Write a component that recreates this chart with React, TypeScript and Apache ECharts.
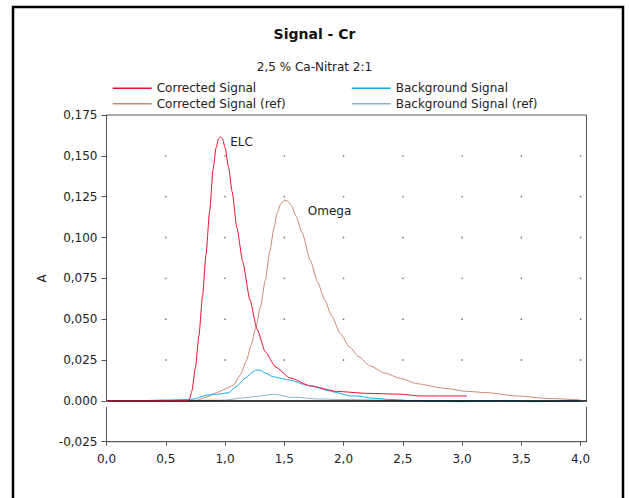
import React, { useEffect, useRef } from "react";
import * as echarts from "echarts";

// ---- data ----
const X_TICKS = [0, 0.5, 1, 1.5, 2, 2.5, 3, 3.5, 4];
const Y_TICKS = [-0.025, 0, 0.025, 0.05, 0.075, 0.1, 0.125, 0.15, 0.175];

const corrX = [0, 0.2, 0.4, 0.6, 0.68, 0.7, 0.72, 0.75, 0.78, 0.81, 0.84, 0.87, 0.9, 0.925, 0.945, 0.963, 0.98, 1.0, 1.03, 1.06, 1.1, 1.15, 1.21, 1.27, 1.34, 1.43, 1.55, 1.72, 1.94, 2.2, 2.48, 2.64, 2.8, 3.04];
const corrY = [0, 0, 0, 0, 0, 0.001, 0.006, 0.02, 0.04, 0.064, 0.09, 0.116, 0.142, 0.155, 0.1605, 0.1616, 0.1603, 0.155, 0.143, 0.128, 0.106, 0.085, 0.062, 0.044, 0.03, 0.0205, 0.014, 0.0092, 0.0058, 0.0046, 0.0041, 0.003, 0.003, 0.003];

const corrRefX = [0, 0.5, 0.7, 0.76, 0.85, 0.93, 1.0, 1.07, 1.13, 1.18, 1.22, 1.26, 1.3, 1.34, 1.38, 1.41, 1.44, 1.47, 1.5, 1.53, 1.56, 1.6, 1.65, 1.72, 1.78, 1.84, 1.9, 1.97, 2.05, 2.13, 2.22, 2.35, 2.48, 2.62, 2.84, 3.04, 3.21, 3.46, 3.74, 4.0];
const corrRefY = [0, 0, 0, 0.0003, 0.0025, 0.0051, 0.0072, 0.0095, 0.016, 0.0245, 0.034, 0.045, 0.058, 0.074, 0.092, 0.105, 0.115, 0.1205, 0.1229, 0.1222, 0.1195, 0.113, 0.103, 0.086, 0.073, 0.062, 0.052, 0.0415, 0.033, 0.027, 0.0215, 0.017, 0.0138, 0.0105, 0.0078, 0.0058, 0.005, 0.003, 0.0014, 0.0006];

const bgX = [0, 0.2, 0.5, 0.73, 0.845, 0.93, 1.03, 1.084, 1.18, 1.23, 1.261, 1.295, 1.34, 1.407, 1.548, 1.69, 1.717, 1.885, 1.94, 2.05, 2.11, 2.25, 2.4, 2.6, 3.0, 3.3, 3.6, 4.0];
const bgY = [0, 0, 0.0005, 0.001, 0.0035, 0.004, 0.005, 0.0082, 0.0143, 0.0175, 0.0188, 0.0188, 0.017, 0.0147, 0.0127, 0.0096, 0.0092, 0.0061, 0.0051, 0.003, 0.003, 0.0016, 0.0008, 0, -0.0005, 0, -0.0005, 0];

const bgRefX = [0, 0.5, 1.0, 1.154, 1.3, 1.39, 1.45, 1.548, 1.6, 1.77, 2.0, 2.5, 3.0, 3.5, 4.0];
const bgRefY = [0, 0, 0.0005, 0.0018, 0.003, 0.004, 0.0037, 0.0022, 0.0022, 0.0012, 0.0008, 0.0003, 0.0002, 0, 0];

const SERIES_NAMES = ["Corrected Signal", "Background Signal", "Corrected Signal (ref)", "Background Signal (ref)"];
const PEAK_LABELS = ["ELC", "Omega"];

const FONT = "DejaVu Sans";

function zip(xs: number[], ys: number[]) {
  return xs.map((x, i) => [x, ys[i]]);
}

function peakMark(text: string, offset: number[]) {
  return {
    silent: true,
    symbol: "circle",
    symbolSize: 1,
    itemStyle: { color: "rgba(0,0,0,0)" },
    data: [
      {
        type: "max",
        valueDim: "y",
        label: {
          show: true,
          position: "right",
          distance: 5,
          offset,
          formatter: text,
          fontFamily: FONT,
          fontSize: 12,
          color: "#222",
        },
      },
    ],
  };
}

export default function App() {
  const ref = useRef<HTMLDivElement>(null);
  useEffect(() => {
    if (!ref.current) return;
    const chart = echarts.init(ref.current, null, { renderer: "svg" });

    const dots: number[][] = [];
    X_TICKS.filter((x) => x > 0).forEach((x) =>
      Y_TICKS.filter((y) => y > 0.001 && y < 0.17).forEach((y) => dots.push([x, y]))
    );

    const legendPos = [
      { name: SERIES_NAMES[0], left: 112.7, top: 82.3 },
      { name: SERIES_NAMES[1], left: 351.7, top: 82.3 },
      { name: SERIES_NAMES[2], left: 112.7, top: 97.7 },
      { name: SERIES_NAMES[3], left: 351.7, top: 97.7 },
    ];

    const lineCommon = {
      type: "line",
      showSymbol: false,
      smooth: 0.2,
      smoothMonotone: "x",
    };

    const option: any = {
      animation: false,
      backgroundColor: "#ffffff",
      title: [
        {
          text: "Signal - Cr",
          left: "center",
          top: 27,
          padding: 0,
          textStyle: { fontFamily: FONT, fontWeight: "bold", fontSize: 14, color: "#111" },
        },
        {
          text: "2,5 % Ca-Nitrat 2:1",
          left: "center",
          top: 61,
          padding: 0,
          textStyle: { fontFamily: FONT, fontWeight: "normal", fontSize: 12, color: "#222" },
        },
      ],
      legend: legendPos.map((l) => ({
        data: [l.name],
        left: l.left,
        top: l.top,
        padding: 0,
        itemWidth: 39,
        itemHeight: 1.5,
        icon: "rect",
        selectedMode: false,
        textStyle: { fontFamily: FONT, fontSize: 12, color: "#222" },
      })),
      grid: {
        left: 106.5,
        right: 42.5,
        top: 115,
        bottom: 56.3,
        show: true,
        borderColor: "#555",
        borderWidth: 1,
        backgroundColor: "transparent",
      },
      xAxis: {
        type: "value",
        min: 0,
        max: 4.05,
        interval: 0.5,
        splitLine: { show: false },
        axisLine: { onZero: false, lineStyle: { color: "#555", width: 1 } },
        axisTick: { show: true, length: 4, customValues: X_TICKS, lineStyle: { color: "#555" } },
        axisLabel: {
          customValues: X_TICKS,
          margin: 11,
          fontFamily: FONT,
          fontSize: 12,
          color: "#222",
          formatter: (v: number) => v.toFixed(1).replace(".", ","),
        },
      },
      yAxis: {
        type: "value",
        min: -0.025,
        max: 0.175,
        interval: 0.025,
        name: "A",
        nameLocation: "middle",
        nameRotate: 90,
        nameGap: 58,
        nameTextStyle: { fontFamily: FONT, fontSize: 12, color: "#222" },
        splitLine: { show: false },
        axisLine: { show: true, lineStyle: { color: "#555", width: 1 } },
        axisTick: { show: true, length: 5, lineStyle: { color: "#555" } },
        axisLabel: {
          margin: 9,
          fontFamily: FONT,
          fontSize: 12,
          color: "#222",
          formatter: (v: number) =>
            Math.abs(v) < 1e-9 ? "0.000" : v.toFixed(3).replace(".", ","),
        },
      },
      series: [
        {
          type: "scatter",
          data: dots,
          symbolSize: 1.6,
          itemStyle: { color: "#555" },
          silent: true,
          z: 1,
        },
        {
          ...lineCommon,
          name: SERIES_NAMES[2],
          color: "#c98a70",
          lineStyle: { width: 1, color: "#c98a70" },
          data: zip(corrRefX, corrRefY),
          markPoint: peakMark(PEAK_LABELS[1], [18, 11]),
          markLine: {
            silent: true,
            symbol: "none",
            label: { show: false },
            lineStyle: { color: "#000", width: 1.6, type: "solid" },
            data: [{ yAxis: 0 }],
          },
          z: 2,
        },
        {
          ...lineCommon,
          name: SERIES_NAMES[3],
          color: "#88b2c8",
          lineStyle: { width: 1, color: "#88b2c8" },
          data: zip(bgRefX, bgRefY),
          z: 3,
        },
        {
          ...lineCommon,
          name: SERIES_NAMES[1],
          color: "#18a8ea",
          lineStyle: { width: 1, color: "#18a8ea" },
          data: zip(bgX, bgY),
          z: 4,
        },
        {
          ...lineCommon,
          name: SERIES_NAMES[0],
          color: "#e8102e",
          lineStyle: { width: 1, color: "#e8102e" },
          data: zip(corrX, corrY),
          markPoint: peakMark(PEAK_LABELS[0], [4, 5]),
          z: 5,
        },
      ],
      graphic: [
        {
          type: "rect",
          shape: { x: 13, y: 7, width: 610, height: 493 },
          style: { fill: "none", stroke: "#000", lineWidth: 2.5 },
          silent: true,
          z: 100,
        },
        {
          type: "rect",
          shape: { x: 104.5, y: 401.8, width: 4, height: 5 },
          style: { fill: "#fff" },
          silent: true,
          z: 100,
        },
        {
          type: "rect",
          shape: { x: 584.5, y: 401.8, width: 4, height: 5 },
          style: { fill: "#fff" },
          silent: true,
          z: 100,
        },
      ],
    };

    chart.setOption(option);
    return () => chart.dispose();
  }, []);

  return (
    <div
      ref={ref}
      style={{ position: "absolute", left: 0, top: 0, width: 629, height: 498 }}
    />
  );
}
